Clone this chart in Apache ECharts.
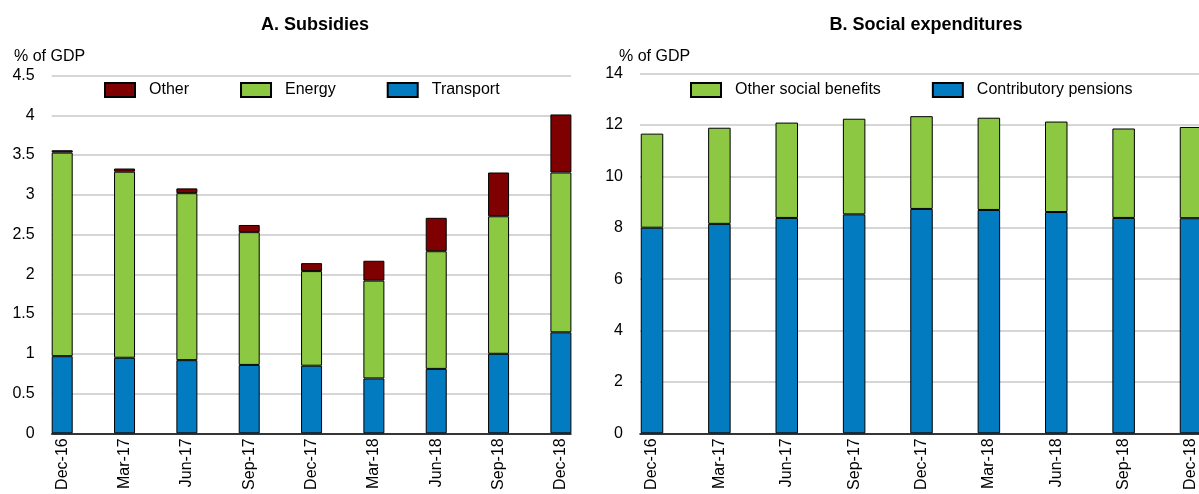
<!DOCTYPE html>
<html>
<head>
<meta charset="utf-8">
<script src="https://cdn.jsdelivr.net/npm/echarts@6/dist/echarts.min.js"></script>
<style>
html,body{margin:0;padding:0;background:#fff;}
#c{width:1199px;height:494px;}
</style>
</head>
<body>
<div id="c"></div>
<script>
// ---- Data ----
var categories = ['Dec-16','Mar-17','Jun-17','Sep-17','Dec-17','Mar-18','Jun-18','Sep-18','Dec-18'];
// Panel A: Subsidies (% of GDP)
var transport = [0.97, 0.95, 0.92, 0.86, 0.85, 0.69, 0.81, 1.00, 1.27];
var energy    = [2.56, 2.34, 2.10, 1.67, 1.19, 1.23, 1.48, 1.73, 2.01];
var otherSub  = [0.03, 0.04, 0.06, 0.09, 0.10, 0.25, 0.42, 0.55, 0.73];
// Panel B: Social expenditures (% of GDP)
var pensions     = [8.00, 8.15, 8.38, 8.52, 8.73, 8.69, 8.61, 8.38, 8.37];
var otherSocial  = [3.66, 3.74, 3.71, 3.72, 3.61, 3.59, 3.52, 3.48, 3.55];
// Axis ticks
var yTicksA = [0, 0.5, 1, 1.5, 2, 2.5, 3, 3.5, 4, 4.5];
var yTicksB = [0, 2, 4, 6, 8, 10, 12, 14];

var FONT = 'Liberation Sans, Arial, Helvetica, sans-serif';
var RED = '#7F0000', GREEN = '#8CC841', BLUE = '#037BC1', GRID = '#C8C8C8';

var chart = echarts.init(document.getElementById('c'), null, {renderer: 'canvas'});

function bgX(idx){
  return {gridIndex: idx, type: 'value', min: 0, max: 1, show: true,
    axisLine: {show: true, onZero: false, lineStyle: {color: '#000', width: 1.5}},
    axisTick: {show: false}, axisLabel: {show: false}, splitLine: {show: false}};
}
function dataX(idx){
  return {gridIndex: idx, type: 'category', data: categories, boundaryGap: false,
    axisLine: {show: false}, axisTick: {show: false}, splitLine: {show: false},
    axisLabel: {rotate: 90, margin: 5, interval: 0, color: '#000', fontSize: 16, fontFamily: FONT}};
}
function bgY(idx, max, interval){
  return {gridIndex: idx, type: 'value', min: 0, max: max, interval: interval,
    axisLine: {show: false}, axisTick: {show: false},
    axisLabel: {color: '#000', fontSize: 16, fontFamily: FONT, margin: 17},
    splitLine: {show: true, lineStyle: {color: GRID, width: 1.5}}};
}
function dataY(idx, max, interval){
  return {gridIndex: idx, type: 'value', min: 0, max: max, interval: interval, show: false,
    splitLine: {show: false}};
}
function bar(name, data, color, xi, yi, w){
  return {name: name, type: 'bar', stack: 's' + xi, data: data, xAxisIndex: xi, yAxisIndex: yi,
    barWidth: w, clip: false,
    itemStyle: {color: color, borderColor: '#000', borderWidth: 1}};
}

var option = {
  animation: false,
  backgroundColor: '#fff',
  textStyle: {fontFamily: FONT},
  title: [
    {text: 'A. Subsidies', left: 310, top: 11, textAlign: 'center',
     textStyle: {fontSize: 18, fontWeight: 'bold', color: '#000', fontFamily: FONT}},
    {text: 'B. Social expenditures', left: 921, top: 11, textAlign: 'center',
     textStyle: {fontSize: 18, fontWeight: 'bold', color: '#000', fontFamily: FONT}}
  ],
  graphic: [
    {type: 'text', left: 14, top: 49, style: {text: '% of GDP', fill: '#000', fontSize: 16, fontFamily: FONT}},
    {type: 'text', left: 619, top: 49, style: {text: '% of GDP', fill: '#000', fontSize: 16, fontFamily: FONT}}
  ],
  legend: [
    {data: ['Other', 'Energy', 'Transport'], left: 104, top: 82, orient: 'horizontal', padding: 0,
     itemWidth: 30, itemHeight: 14, itemGap: 51, icon: 'rect',
     textStyle: {fontSize: 16, color: '#000', fontFamily: FONT, padding: [0, 0, 0, 9]}},
    {data: ['Other social benefits', 'Contributory pensions'], left: 690, top: 82, orient: 'horizontal', padding: 0,
     itemWidth: 30, itemHeight: 14, itemGap: 51, icon: 'rect',
     textStyle: {fontSize: 16, color: '#000', fontFamily: FONT, padding: [0, 0, 0, 9]}}
  ],
  grid: [
    {left: 51.7, right: 1199 - 571, top: 75.5, bottom: 494 - 433.3},
    {left: 62.2, right: 1199 - 560.9, top: 75.5, bottom: 494 - 433.3},
    {left: 640, right: -5, top: 73.5, bottom: 494 - 433.3},
    {left: 652, right: 1199 - 1192.8, top: 73.5, bottom: 494 - 433.3}
  ],
  xAxis: [bgX(0), dataX(1), bgX(2), dataX(3)],
  yAxis: [bgY(0, 4.5, 0.5), dataY(1, 4.5, 0.5), bgY(2, 14, 2), dataY(3, 14, 2)],
  series: [
    bar('Transport', transport, BLUE, 1, 1, 21),
    bar('Energy', energy, GREEN, 1, 1, 21),
    bar('Other', otherSub, RED, 1, 1, 21),
    bar('Contributory pensions', pensions, BLUE, 3, 3, 22.5),
    bar('Other social benefits', otherSocial, GREEN, 3, 3, 22.5)
  ]
};
chart.setOption(option);
</script>
</body>
</html>
